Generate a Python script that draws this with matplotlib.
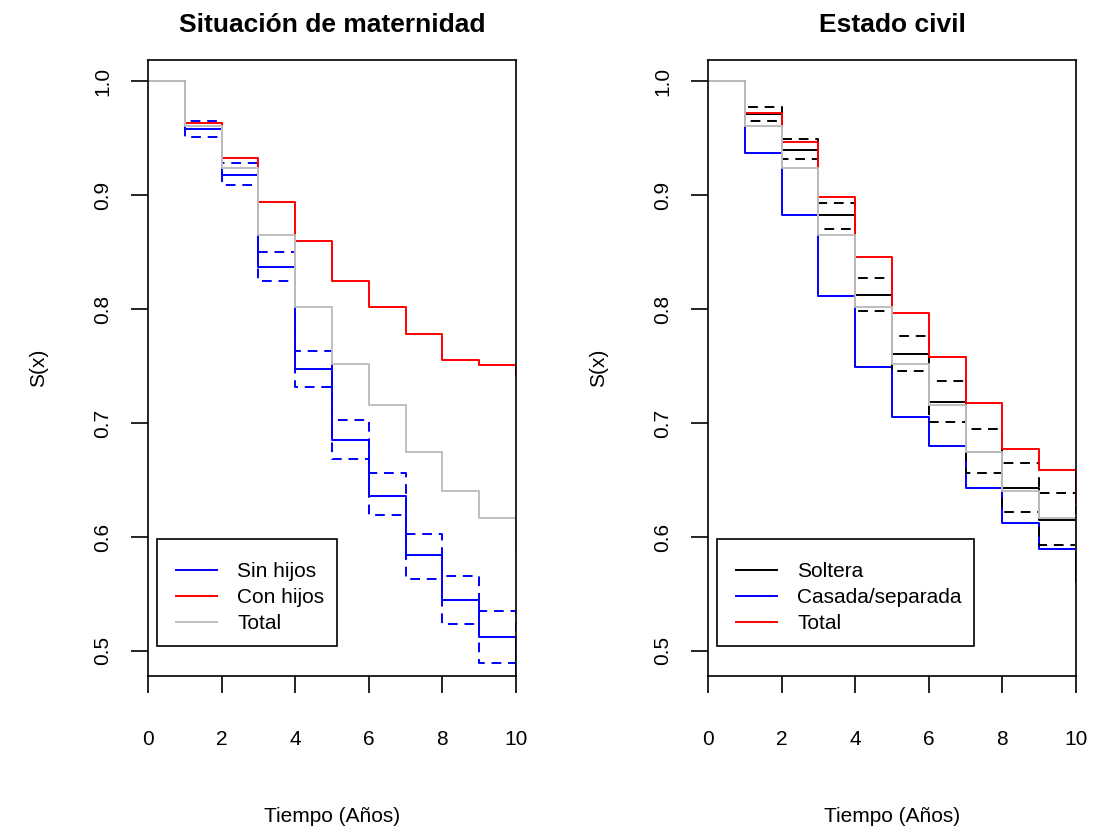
import matplotlib
matplotlib.use("Agg")
import matplotlib.pyplot as plt
from matplotlib.lines import Line2D
from matplotlib.legend_handler import HandlerLine2D

plt.rcParams['font.family'] = ['Liberation Sans', 'DejaVu Sans']

tiempo = [0, 1, 2, 3, 4, 5, 6, 7, 8, 9, 10]

# Situacion de maternidad
sin_hijos = [1.0, 0.958, 0.9175, 0.837, 0.747, 0.685, 0.636, 0.584, 0.545, 0.512, 0.45]
sin_hijos_sup = [1.0, 0.965, 0.928, 0.850, 0.763, 0.703, 0.656, 0.603, 0.566, 0.535, 0.47]
sin_hijos_inf = [1.0, 0.9506, 0.9085, 0.8246, 0.7313, 0.668, 0.619, 0.563, 0.524, 0.489, 0.43]
con_hijos = [1.0, 0.963, 0.933, 0.894, 0.860, 0.8246, 0.8015, 0.778, 0.755, 0.7506, 0.741]
total = [1.0, 0.961, 0.924, 0.865, 0.8015, 0.752, 0.716, 0.675, 0.640, 0.617, 0.587]

# Estado civil
soltera = [1.0, 0.971, 0.940, 0.8825, 0.8123, 0.761, 0.7187, 0.675, 0.6433, 0.615, 0.58]
soltera_sup = [1.0, 0.977, 0.949, 0.893, 0.8275, 0.7766, 0.7366, 0.6945, 0.6652, 0.6383, 0.62]
soltera_inf = [1.0, 0.965, 0.9316, 0.870, 0.798, 0.7453, 0.7011, 0.6564, 0.6222, 0.5927, 0.56]
casada = [1.0, 0.9366, 0.8825, 0.8117, 0.7489, 0.705, 0.680, 0.6433, 0.612, 0.5892, 0.569]
total_ec = [1.0, 0.9717, 0.9468, 0.8985, 0.8453, 0.7968, 0.7576, 0.7173, 0.677, 0.6588, 0.63]

azul = "#0000FF"
rojo = "#FF0000"
gris = "#BEBEBE"
lw = 1.4
guion = (5, 3.5)
fs = 15


def prepara(ax, titulo):
    ax.set_xlim(0, 10)
    ax.set_ylim(0.478, 1.019)
    ax.set_xticks([0, 2, 4, 6, 8, 10])
    ax.set_yticks([0.5, 0.6, 0.7, 0.8, 0.9, 1.0])
    ax.set_yticklabels(["0.5", "0.6", "0.7", "0.8", "0.9", "1.0"], rotation=90, va="center")
    ax.tick_params(axis="x", length=12, width=1.2, pad=27, labelsize=fs)
    ax.tick_params(axis="y", length=12, width=1.2, pad=14, labelsize=fs)
    for s in ax.spines.values():
        s.set_linewidth(1.2)
    ax.set_title(titulo, fontsize=19, fontweight="bold", pad=20)
    ax.set_xlabel("Tiempo (Años)", fontsize=fs, labelpad=42)
    ax.set_ylabel("S(x)", fontsize=fs, labelpad=32)


fig = plt.figure(figsize=(10.95, 8.33), dpi=100)
ax1 = fig.add_axes([148 / 1095, 1 - 676 / 833, 368 / 1095, 616.5 / 833])
ax2 = fig.add_axes([708 / 1095, 1 - 676 / 833, 368 / 1095, 616.5 / 833])

ax1.step(tiempo, sin_hijos, where="post", color=azul, lw=lw)
ax1.step(tiempo, sin_hijos_sup, where="post", color=azul, lw=lw, dashes=guion)
ax1.step(tiempo, sin_hijos_inf, where="post", color=azul, lw=lw, dashes=guion)
ax1.step(tiempo, con_hijos, where="post", color=rojo, lw=lw)
ax1.step(tiempo, total, where="post", color=gris, lw=lw)
prepara(ax1, "Situación de maternidad")

ax2.step(tiempo, casada, where="post", color=azul, lw=lw)
ax2.step(tiempo, soltera, where="post", color="black", lw=lw)
ax2.step(tiempo, soltera_sup, where="post", color="black", lw=lw, dashes=guion)
ax2.step(tiempo, soltera_inf, where="post", color="black", lw=lw, dashes=guion)
ax2.step(tiempo, total_ec, where="post", color=rojo, lw=lw)
ax2.step(tiempo, total, where="post", color=gris, lw=lw)
prepara(ax2, "Estado civil")

# leyendas como en el original (titulo vacio para dejar mas aire arriba)
h1 = [Line2D([], [], color=azul, lw=lw), Line2D([], [], color=rojo, lw=lw), Line2D([], [], color=gris, lw=lw)]
h2 = [Line2D([], [], color="black", lw=lw), Line2D([], [], color=azul, lw=lw), Line2D([], [], color=rojo, lw=lw)]
for ax, hs, labs in [(ax1, h1, ["Sin hijos", "Con hijos", "Total"]),
                     (ax2, h2, ["Soltera", "Casada/separada", "Total"])]:
    leg = ax.legend(hs, labs, loc="lower left", bbox_to_anchor=(0.0245, 0.0487),
                    borderaxespad=0, fontsize=fs, fancybox=False, framealpha=1,
                    edgecolor="black", handlelength=2.26, handletextpad=0.96,
                    labelspacing=0.33, borderpad=0.62, title=" ", title_fontsize=3,
                    handler_map={Line2D: HandlerLine2D(xpad=0.29)})
    leg.get_frame().set_linewidth(1.2)

fig.savefig("out.png", dpi=100)
